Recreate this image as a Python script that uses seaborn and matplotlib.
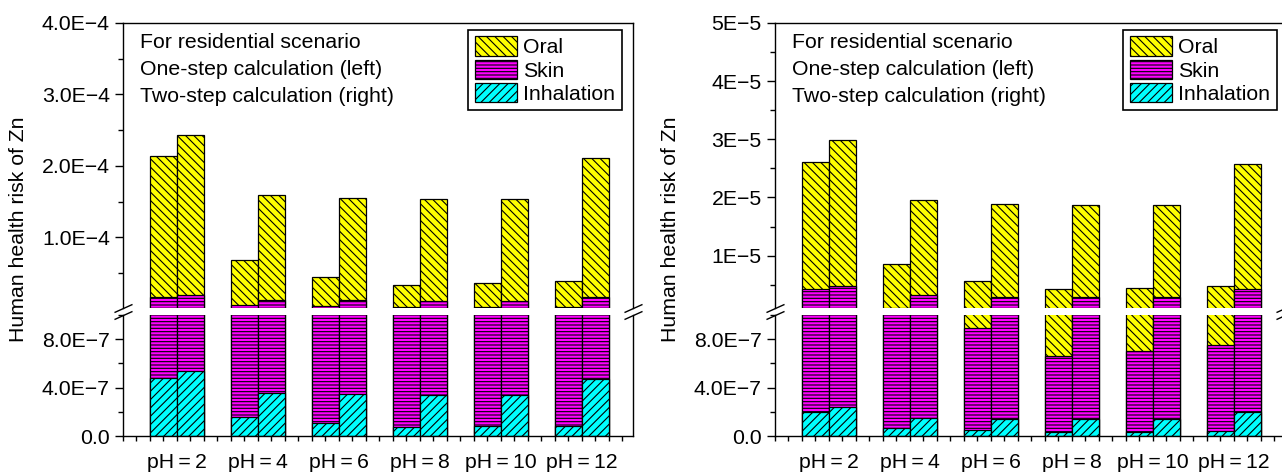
import numpy as np
import pandas as pd
import seaborn as sns
import matplotlib.pyplot as plt
from matplotlib.patches import Patch
from matplotlib.ticker import MultipleLocator, FixedLocator, FixedFormatter

# ---- data ----
ph_labels = ['pH\u2009=\u20092', 'pH\u2009=\u20094', 'pH\u2009=\u20096',
             'pH\u2009=\u20098', 'pH\u2009=\u200910', 'pH\u2009=\u200912']
methods = ['One-step', 'Two-step']
routes = ['Oral', 'Skin', 'Inhalation']
note_lines = ['For residential scenario', 'One-step calculation (left)', 'Two-step calculation (right)']
ylabel = 'Human health risk of Zn'

# left panel
a_oral_one = [1.98e-4, 6.31e-5, 4.12e-5, 3.19e-5, 3.41e-5, 3.63e-5]
a_skin_one = [1.58e-5, 4.44e-6, 3.09e-6, 1.73e-6, 1.72e-6, 1.92e-6]
a_inh_one = [4.8e-7, 1.57e-7, 1.07e-7, 0.74e-7, 0.8e-7, 0.85e-7]
a_oral_two = [2.25e-4, 1.48e-4, 1.43e-4, 1.42e-4, 1.42e-4, 1.95e-4]
a_skin_two = [1.83e-5, 1.12e-5, 1.12e-5, 1.07e-5, 1.07e-5, 1.58e-5]
a_inh_two = [5.36e-7, 3.55e-7, 3.5e-7, 3.4e-7, 3.4e-7, 4.7e-7]

# right panel
b_oral_one = [2.19e-5, 7.45e-6, 4.81e-6, 3.54e-6, 3.80e-6, 4.05e-6]
b_skin_one = [4.0e-6, 0.98e-6, 8.4e-7, 6.25e-7, 6.65e-7, 7.1e-7]
b_inh_one = [1.98e-7, 0.66e-7, 0.5e-7, 0.35e-7, 0.35e-7, 0.4e-7]
b_oral_two = [2.50e-5, 1.64e-5, 1.60e-5, 1.58e-5, 1.57e-5, 2.15e-5]
b_skin_two = [4.56e-6, 3.05e-6, 2.80e-6, 2.80e-6, 2.80e-6, 4.04e-6]
b_inh_two = [2.4e-7, 1.48e-7, 1.4e-7, 1.4e-7, 1.4e-7, 2.0e-7]

a_upper_ticks = [1e-4, 2e-4, 3e-4, 4e-4]
a_upper_labels = ['1.0E\u22124', '2.0E\u22124', '3.0E\u22124', '4.0E\u22124']
b_upper_ticks = [1e-5, 2e-5, 3e-5, 4e-5, 5e-5]
b_upper_labels = ['1E\u22125', '2E\u22125', '3E\u22125', '4E\u22125', '5E\u22125']
lower_ticks = [0, 4e-7, 8e-7]
lower_labels = ['0.0', '4.0E\u22127', '8.0E\u22127']

sns.set_theme(style='ticks', rc={
    'axes.edgecolor': 'black', 'axes.linewidth': 1.0,
    'xtick.color': 'black', 'ytick.color': 'black',
    'text.color': 'black', 'axes.labelcolor': 'black',
    'hatch.linewidth': 0.8,
})
plt.rcParams['font.family'] = ['Liberation Sans', 'DejaVu Sans']

colors = {'Oral': '#ffff00', 'Skin': '#ff00ff', 'Inhalation': '#00ffff'}
hatches = {'Oral': '\\\\\\\\', 'Skin': '-----', 'Inhalation': '////'}
FS = 15.3


def make_frame(oral1, skin1, inh1, oral2, skin2, inh2):
    one = pd.DataFrame({'pH': ph_labels, 'Method': methods[0],
                        'Oral': oral1, 'Skin': skin1, 'Inhalation': inh1})
    two = pd.DataFrame({'pH': ph_labels, 'Method': methods[1],
                        'Oral': oral2, 'Skin': skin2, 'Inhalation': inh2})
    df = pd.concat([one, two], ignore_index=True)
    # stack: inhalation at the bottom, then skin, then oral
    df['Inhalation_top'] = df['Inhalation']
    df['Skin_top'] = df['Inhalation_top'] + df['Skin']
    df['Oral_top'] = df['Skin_top'] + df['Oral']
    return df


def draw_bars(ax, df):
    for r in routes:
        c = colors[r]
        sns.barplot(data=df, x='pH', y=r + '_top', hue='Method', order=ph_labels,
                    hue_order=methods, palette={m: c for m in methods}, saturation=1,
                    width=2 / 3, gap=0, dodge=True, errorbar=None, legend=False,
                    edgecolor='black', linewidth=0.9, hatch=hatches[r], ax=ax)
    ax.set_xlim(-4 / 6, 33.8 / 6)
    ax.set_xlabel('')
    ax.set_ylabel('')


def break_marks(ax, y):
    ax.plot([0, 1], [y, y], transform=ax.transAxes, marker=[(-1, -0.45), (1, 0.45)],
            markersize=13, linestyle='none', color='black', mec='black', mew=1.0,
            clip_on=False)


def draw_panel(x0, up_lim, up_ticks, up_labels, df, leg_x):
    w = 510 / 1282
    upper = fig.add_axes([x0, 167 / 475, w, 285 / 475])
    lower = fig.add_axes([x0, 39 / 475, w, 121 / 475])

    draw_bars(upper, df)
    draw_bars(lower, df)

    # upper part of the broken axis
    upper.set_ylim(*up_lim)
    upper.spines['bottom'].set_visible(False)
    upper.tick_params(axis='x', which='both', bottom=False, labelbottom=False)
    upper.yaxis.set_major_locator(FixedLocator(up_ticks))
    upper.yaxis.set_major_formatter(FixedFormatter(up_labels))
    upper.yaxis.set_minor_locator(MultipleLocator(up_ticks[0] / 2))

    # lower part
    lower.set_ylim(0, 1e-6)
    lower.spines['top'].set_visible(False)
    lower.yaxis.set_major_locator(FixedLocator(lower_ticks))
    lower.yaxis.set_major_formatter(FixedFormatter(lower_labels))
    lower.yaxis.set_minor_locator(MultipleLocator(2e-7))
    lower.xaxis.set_minor_locator(MultipleLocator(1 / 6))
    lower.tick_params(axis='x', which='both', length=3.6, width=1.0, pad=9, labelsize=FS)

    for ax in (upper, lower):
        ax.tick_params(axis='y', which='major', length=6, width=1.0, labelsize=FS, pad=3.5)
        ax.tick_params(axis='y', which='minor', length=3.6, width=1.0, left=True)
        ax.spines['right'].set_visible(True)

    break_marks(upper, 0)
    break_marks(lower, 1)

    for i, line in enumerate(note_lines):
        upper.text(0.033, 0.93 - 0.0947 * i, line, transform=upper.transAxes,
                   fontsize=FS, ha='left', va='center')

    handles = [Patch(facecolor=colors[r], edgecolor='black', hatch=hatches[r], linewidth=0.9)
               for r in routes]
    leg = upper.legend(handles, routes, loc='upper right', bbox_to_anchor=(leg_x, 0.975),
                       borderaxespad=0, fontsize=FS, handlelength=2.0, handleheight=1.0,
                       labelspacing=0.12, handletextpad=0.3, borderpad=0.3,
                       frameon=True, fancybox=False, edgecolor='black', framealpha=1)
    leg.get_frame().set_linewidth(1.2)
    return upper, lower


fig = plt.figure(figsize=(12.82, 4.75), dpi=100)

df_a = make_frame(a_oral_one, a_skin_one, a_inh_one, a_oral_two, a_skin_two, a_inh_two)
df_b = make_frame(b_oral_one, b_skin_one, b_inh_one, b_oral_two, b_skin_two, b_inh_two)

draw_panel(123 / 1282, (1e-6, 4e-4), a_upper_ticks, a_upper_labels, df_a, 0.978)
draw_panel(775 / 1282, (1e-6, 5e-5), b_upper_ticks, b_upper_labels, df_b, 0.984)

fig.text(19 / 1282, 0.518, ylabel, rotation=90, ha='center', va='center', fontsize=FS)
fig.text(671 / 1282, 0.518, ylabel, rotation=90, ha='center', va='center', fontsize=FS)

fig.savefig('out.png', dpi=100)
